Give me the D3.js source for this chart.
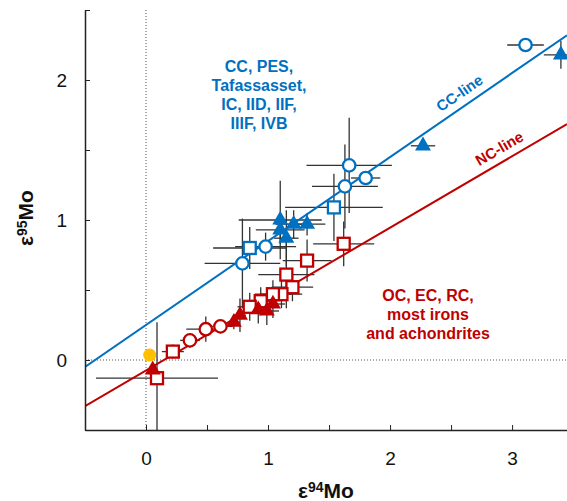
<html>
<head>
<script src="https://d3js.org/d3.v7.min.js"></script>
<style type="text/css">
body {
	margin: 0;
	font-family: "Liberation Sans", Arial, Helvetica, sans-serif;
	background: #fff;
}
.axis text {
	font: 19px "Liberation Sans", Arial, sans-serif;
	fill: #111;
}
</style>
<script>
// [x, y, xErr, yErr]
var ccCircles = [[3.11, 2.25, 0.15, 0.03], [1.665, 1.39, 0.35, 0.34], [1.80, 1.30, 0.12, 0.05], [1.63, 1.24, 0.27, 0.30], [0.98, 0.81, 0.25, 0.10], [0.79, 0.69, 0.31, 0.32]];
var ccSquares = [[1.54, 1.09, 0.40, 0.24], [0.85, 0.80, 0.30, 0.15]];
var ccTriangles = [[3.40, 2.18, 0.14, 0.10], [2.27, 1.53, 0.10, 0.02], [1.10, 1.00, 0.34, 0.28], [1.21, 0.97, 0.15, 0.10], [1.32, 0.97, 0.15, 0.08], [1.10, 0.93, 0.20, 0.10], [1.15, 0.87, 0.10, 0.20]];
var ncCircles = [[0.36, 0.14, 0.08, 0.05], [0.49, 0.22, 0.16, 0.09], [0.61, 0.24, 0.10, 0.05]];
var ncSquares = [[1.62, 0.83, 0.25, 0.16], [1.32, 0.71, 0.20, 0.15], [1.15, 0.61, 0.23, 0.24], [1.20, 0.52, 0.17, 0.10], [1.11, 0.47, 0.17, 0.10], [1.04, 0.47, 0.15, 0.10], [0.94, 0.42, 0.12, 0.10], [0.85, 0.38, 0.10, 0.10], [0.22, 0.06, 0.09, 0.05], [0.09, -0.13, 0.50, 0.40]];
var ncTriangles = [[1.04, 0.40, 0.10, 0.10], [0.92, 0.36, 0.10, 0.10], [0.99, 0.35, 0.10, 0.10], [0.77, 0.32, 0.05, 0.12], [0.72, 0.27, 0.05, 0.05], [0.055, -0.07, 0, 0]];
var earth = [[0.03, 0.035]];

// reference lines: slope, intercept
var ccLine = {slope: 0.60, intercept: 0.25, label: 'CC-line', at: 2.63};
var ncLine = {slope: 0.51, intercept: -0.075, label: 'NC-line', at: 2.95};

var xTicks = [0, 0.5, 1, 1.5, 2, 2.5, 3];
var yTicks = [-0.5, 0, 0.5, 1, 1.5, 2, 2.5];
var ccText = ['CC, PES,', 'Tafassasset,', 'IC, IID, IIF,', 'IIIF, IVB'];
var ncText = ['OC, EC, RC,', 'most irons', 'and achondrites'];

document.addEventListener('DOMContentLoaded', function () {
	var width = 567;
	var height = 501;
	var margin = {top: 10, right: 0, bottom: 71, left: 85};
	var blue = '#0070C0';
	var red = '#C00000';
	var yellow = '#FFC000';

	var svg = d3.select('body').append('svg').attr('width', width).attr('height', height);

	var x = d3.scaleLinear().domain([-0.5, 3.45]).range([margin.left, width - margin.right]);
	var y = d3.scaleLinear().domain([-0.5, 2.5]).range([height - margin.bottom, margin.top]);

	svg.append('clipPath').attr('id', 'plot').append('rect')
		.attr('x', margin.left).attr('y', margin.top - 1)
		.attr('width', width - margin.left - margin.right).attr('height', height - margin.bottom - margin.top + 1);
	var plot = svg.append('g').attr('clip-path', 'url(#plot)');

	//dotted zero lines
	plot.append('line').attr('x1', x(0)).attr('x2', x(0)).attr('y1', y(2.5)).attr('y2', y(-0.5))
		.attr('stroke', '#555').attr('stroke-width', 1).style('stroke-dasharray', '1,2');
	plot.append('line').attr('x1', x(-0.5)).attr('x2', x(3.45)).attr('y1', y(0)).attr('y2', y(0))
		.attr('stroke', '#555').attr('stroke-width', 1).style('stroke-dasharray', '1,2');

	//error bars first so that markers sit on top
	var all = [].concat(ccCircles, ccSquares, ccTriangles, ncCircles, ncSquares, ncTriangles);
	var bars = plot.append('g').attr('stroke', '#333').attr('stroke-width', 1.3);
	all.forEach(function(d) {
		if (d[2] > 0) {
			bars.append('line').attr('x1', x(d[0] - d[2])).attr('x2', x(d[0] + d[2])).attr('y1', y(d[1])).attr('y2', y(d[1]));
		}
		if (d[3] > 0) {
			bars.append('line').attr('x1', x(d[0])).attr('x2', x(d[0])).attr('y1', y(d[1] - d[3])).attr('y2', y(d[1] + d[3]));
		}
	});

	//the two reference lines
	[[ccLine, blue], [ncLine, red]].forEach(function(p) {
		var l = p[0];
		plot.append('line')
			.attr('x1', x(-0.5)).attr('y1', y(l.slope * -0.5 + l.intercept))
			.attr('x2', x(3.45)).attr('y2', y(l.slope * 3.45 + l.intercept))
			.attr('stroke', p[1]).attr('stroke-width', 2);
		var ang = Math.atan2(y(l.slope * 3 + l.intercept) - y(l.intercept), x(3) - x(0)) * 180 / Math.PI;
		svg.append('text')
			.attr('transform', 'translate(' + x(l.at) + ',' + y(l.slope * l.at + l.intercept) + ') rotate(' + ang + ')')
			.attr('dy', -8).attr('text-anchor', 'middle')
			.attr('fill', p[1]).style('font', 'bold 15px "Liberation Sans", Arial, sans-serif')
			.text(l.label);
	});

	//markers
	var marks = svg.append('g');
	function circles(data, color, filled, r) {
		marks.selectAll(null).data(data).enter().append('circle')
			.attr('cx', function(d) { return x(d[0]); }).attr('cy', function(d) { return y(d[1]); })
			.attr('r', r).attr('fill', filled ? color : '#fff')
			.attr('stroke', filled ? 'none' : color).attr('stroke-width', 2.3);
	}
	function squares(data, color) {
		var s = 12;
		marks.selectAll(null).data(data).enter().append('rect')
			.attr('x', function(d) { return x(d[0]) - s / 2; }).attr('y', function(d) { return y(d[1]) - s / 2; })
			.attr('width', s).attr('height', s).attr('fill', '#fff')
			.attr('stroke', color).attr('stroke-width', 2.3);
	}
	function triangles(data, color) {
		var tri = d3.symbol().type(d3.symbolTriangle).size(110);
		marks.selectAll(null).data(data).enter().append('path')
			.attr('transform', function(d) { return 'translate(' + x(d[0]) + ',' + y(d[1]) + ')'; })
			.attr('d', tri).attr('fill', color);
	}
	squares(ncSquares, red);
	triangles(ncTriangles, red);
	circles(ncCircles, red, false, 6.2);
	circles(earth, yellow, true, 6.5);
	squares(ccSquares, blue);
	triangles(ccTriangles, blue);
	circles(ccCircles, blue, false, 6.2);

	//axes with inward ticks
	var fmt = function(v) { return Number.isInteger(v) ? String(v) : ''; };
	var xAxis = d3.axisBottom(x).tickValues(xTicks).tickSizeInner(-5).tickSizeOuter(0).tickPadding(22).tickFormat(fmt);
	var yAxis = d3.axisLeft(y).tickValues(yTicks).tickSizeInner(-5).tickSizeOuter(0).tickPadding(18).tickFormat(fmt);
	var gx = svg.append('g').attr('class', 'axis').attr('transform', 'translate(0,' + (height - margin.bottom) + ')').call(xAxis);
	var gy = svg.append('g').attr('class', 'axis').attr('transform', 'translate(' + margin.left + ',0)').call(yAxis);
	[gx, gy].forEach(function(g) {
		g.select('.domain').attr('stroke', '#222').attr('stroke-width', 1.5);
		g.selectAll('.tick line').attr('stroke', '#222').attr('stroke-width', 1);
	});

	//axis titles
	var xt = svg.append('text').attr('x', (margin.left + width - margin.right) / 2).attr('y', 498)
		.attr('text-anchor', 'middle').style('font', 'bold 21px "Liberation Sans", Arial, sans-serif').attr('fill', '#111');
	xt.append('tspan').text('ε');
	xt.append('tspan').attr('baseline-shift', '40%').style('font-size', '14px').text('94');
	xt.append('tspan').text('Mo');
	var yt = svg.append('text').attr('transform', 'translate(33,218) rotate(-90)')
		.attr('text-anchor', 'middle').style('font', 'bold 21px "Liberation Sans", Arial, sans-serif').attr('fill', '#111');
	yt.append('tspan').text('ε');
	yt.append('tspan').attr('baseline-shift', '40%').style('font-size', '14px').text('95');
	yt.append('tspan').text('Mo');

	//group annotations
	svg.append('g').selectAll('text').data(ccText).enter().append('text')
		.attr('x', 259).attr('y', function(d, i) { return 72 + i * 19; })
		.attr('text-anchor', 'middle').attr('fill', blue)
		.style('font', 'bold 16px "Liberation Sans", Arial, sans-serif').text(function(d) { return d; });
	svg.append('g').selectAll('text').data(ncText).enter().append('text')
		.attr('x', 428).attr('y', function(d, i) { return 301 + i * 19; })
		.attr('text-anchor', 'middle').attr('fill', red)
		.style('font', 'bold 16px "Liberation Sans", Arial, sans-serif').text(function(d) { return d; });
});
</script>
</head>
<body>
</body>
</html>
